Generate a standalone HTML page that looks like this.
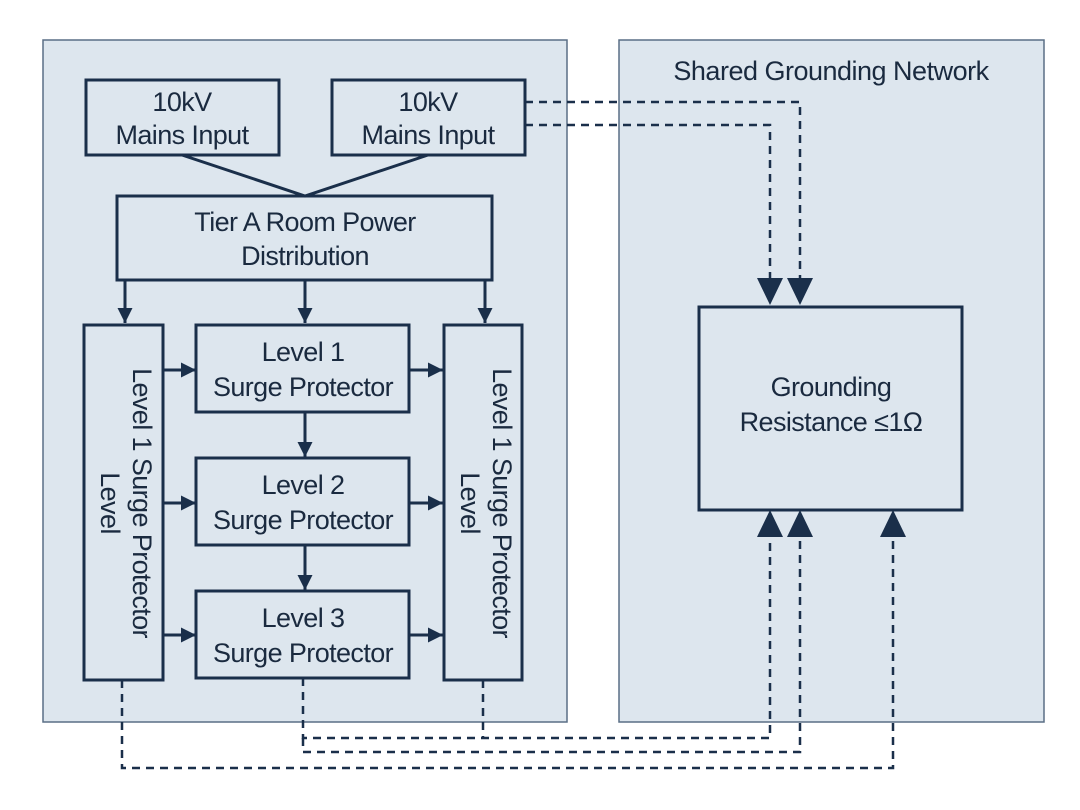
<!DOCTYPE html>
<html><head><style>
html,body{margin:0;padding:0;background:#fff;}
svg{display:block;}
text{font-family:"Liberation Sans",sans-serif;fill:#1a2a3f;}
</style></head><body>
<svg width="1080" height="810" viewBox="0 0 1080 810" xmlns="http://www.w3.org/2000/svg">
<defs>
<marker id="a" viewBox="0 0 10 10" refX="10" refY="5" markerWidth="5" markerHeight="5" orient="auto-start-reverse" markerUnits="strokeWidth">
<path d="M0,0 L10,5 L0,10 z" fill="#1a2f4a"/></marker>
</defs>
<rect x="43" y="40" width="524" height="682" fill="#dde6ee" stroke="#5a6f85" stroke-width="1.5"/>
<rect x="619" y="40" width="425" height="682" fill="#dde6ee" stroke="#5a6f85" stroke-width="1.5"/>
<text x="831" y="80" font-size="27" text-anchor="middle" letter-spacing="-0.5">Shared Grounding Network</text>
<g fill="none" stroke="#1a2f4a" stroke-width="3">
<rect x="86" y="80" width="193" height="75"/>
<rect x="332" y="80" width="193" height="75"/>
<rect x="117" y="196" width="375" height="84"/>
<rect x="84" y="325" width="79" height="355"/>
<rect x="444" y="325" width="78" height="355"/>
<rect x="196" y="325" width="213" height="87"/>
<rect x="196" y="458" width="213" height="87"/>
<rect x="196" y="591" width="213" height="87"/>
<rect x="699" y="307" width="263" height="203"/>
<path d="M182,155 L305,196 L428,155"/>
</g>
<g stroke="#1a2f4a" stroke-width="3" fill="none" marker-end="url(#a)">
<line x1="125" y1="280" x2="125" y2="323"/>
<line x1="305" y1="280" x2="305" y2="323"/>
<line x1="485" y1="280" x2="485" y2="323"/>
<line x1="163" y1="370" x2="196" y2="370"/>
<line x1="163" y1="503" x2="196" y2="503"/>
<line x1="163" y1="635" x2="196" y2="635"/>
<line x1="409" y1="370" x2="443" y2="370"/>
<line x1="409" y1="503" x2="443" y2="503"/>
<line x1="409" y1="635" x2="443" y2="635"/>
<line x1="305" y1="412" x2="305" y2="457"/>
<line x1="305" y1="545" x2="305" y2="590"/>
</g>
<g stroke="#1a2f4a" stroke-width="2.5" fill="none" stroke-dasharray="8,6">
<path d="M525,102 L800,102 L800,280"/>
<path d="M525,125 L770,125 L770,280"/>
<path d="M303,678 L303,738 L770,738 L770,535"/>
<path d="M483,680 L483,738"/>
<path d="M303,738 L303,752 L800,752 L800,535"/>
<path d="M122,680 L122,768 L893,768 L893,535"/>
</g>
<g fill="#1a2f4a">
<path d="M757,278 L783,278 L770,305 z"/>
<path d="M787,278 L813,278 L800,305 z"/>
<path d="M757,537 L783,537 L770,510 z"/>
<path d="M787,537 L813,537 L800,510 z"/>
<path d="M880,537 L906,537 L893,510 z"/>
</g>
<g font-size="27" text-anchor="middle" letter-spacing="-0.6">
<text x="182" y="111">10kV</text><text x="182" y="144">Mains Input</text>
<text x="428" y="111">10kV</text><text x="428" y="144">Mains Input</text>
<text x="305" y="231">Tier A Room Power</text><text x="305" y="265">Distribution</text>
<text x="303" y="361">Level 1</text><text x="303" y="396">Surge Protector</text>
<text x="303" y="494">Level 2</text><text x="303" y="529">Surge Protector</text>
<text x="303" y="627">Level 3</text><text x="303" y="662">Surge Protector</text>
<text x="831" y="396">Grounding</text><text x="831" y="431">Resistance ≤1Ω</text>
<g transform="translate(123,503) rotate(90)"><text x="0" y="-10">Level 1 Surge Protector</text><text x="0" y="22">Level</text></g>
<g transform="translate(483,503) rotate(90)"><text x="0" y="-10">Level 1 Surge Protector</text><text x="0" y="22">Level</text></g>
</g>
</svg>
</body></html>
